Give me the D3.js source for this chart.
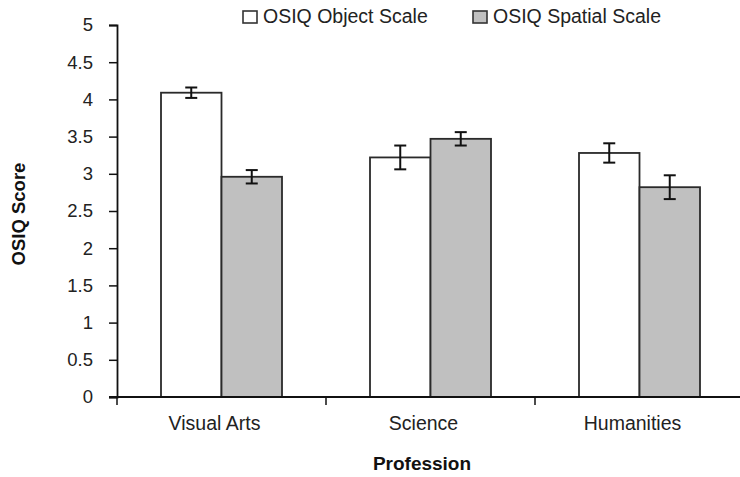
<!DOCTYPE html>
<html><head><meta charset="utf-8">
<script src="https://cdn.jsdelivr.net/npm/d3@7"></script>
<style>body{margin:0;background:#fff}text{font-family:"Liberation Sans",Arial,sans-serif}</style>
</head><body>
<svg id="c" width="740" height="477"></svg>
<script>
const categories = ["Visual Arts", "Science", "Humanities"];
const seriesNames = ["OSIQ Object Scale", "OSIQ Spatial Scale"];
const objectMeans = [4.09, 3.22, 3.28];
const objectErr = [0.07, 0.16, 0.13];
const spatialMeans = [2.96, 3.47, 2.82];
const spatialErr = [0.09, 0.09, 0.16];
const yTicks = [0, 0.5, 1, 1.5, 2, 2.5, 3, 3.5, 4, 4.5, 5];
const colors = ["#ffffff", "#c0c0c0"];

const svg = d3.select("#c");
const m = {left: 117, top: 25, bottom: 397};
const bandW = 209;
const y = d3.scaleLinear().domain([0, 5]).range([m.bottom, m.top]);
const x0 = d3.scaleBand().domain(categories).range([m.left, m.left + 3 * bandW]).paddingInner(0).paddingOuter(0);
const x1 = d3.scaleBand().domain(seriesNames).range([44, bandW - 44]);

const data = categories.map((c, i) => ({
  cat: c,
  vals: [
    {s: seriesNames[0], v: objectMeans[i], e: objectErr[i]},
    {s: seriesNames[1], v: spatialMeans[i], e: spatialErr[i]}
  ]
}));

const g = svg.append("g");
const groups = g.selectAll("g.cat").data(data).join("g").attr("transform", d => `translate(${x0(d.cat)},0)`);
groups.selectAll("rect").data(d => d.vals).join("rect")
  .attr("x", d => x1(d.s)).attr("width", x1.bandwidth())
  .attr("y", d => y(d.v)).attr("height", d => y(0) - y(d.v))
  .attr("fill", (d, i) => colors[i]).attr("stroke", "#2a2a2a").attr("stroke-width", 1.8);

const eb = groups.selectAll("g.eb").data(d => d.vals).join("g").attr("class", "eb");
const cx = d => x1(d.s) + x1.bandwidth() / 2;
eb.append("line").attr("x1", cx).attr("x2", cx)
  .attr("y1", d => y(d.v + d.e)).attr("y2", d => y(d.v - d.e));
eb.append("line").attr("x1", d => cx(d) - 6).attr("x2", d => cx(d) + 6)
  .attr("y1", d => y(d.v + d.e)).attr("y2", d => y(d.v + d.e));
eb.append("line").attr("x1", d => cx(d) - 6).attr("x2", d => cx(d) + 6)
  .attr("y1", d => y(d.v - d.e)).attr("y2", d => y(d.v - d.e));
eb.selectAll("line").attr("stroke", "#111").attr("stroke-width", 2);

// y axis
const ya = svg.append("g").attr("transform", `translate(${m.left},0)`)
  .call(d3.axisLeft(y).tickValues(yTicks).tickSize(8).tickPadding(16).tickFormat(d3.format("")));
ya.select(".domain").attr("stroke", "#111").attr("stroke-width", 1.8);
ya.selectAll(".tick line").attr("stroke", "#111").attr("stroke-width", 1.5);
ya.selectAll(".tick text").attr("font-size", 18.5).attr("fill", "#222").attr("font-family", "Liberation Sans, Arial, sans-serif");

// x axis
const xa = svg.append("g").attr("transform", `translate(0,${m.bottom})`);
xa.append("line").attr("x1", m.left - 8).attr("x2", 740).attr("y1", 0).attr("y2", 0).attr("stroke", "#111").attr("stroke-width", 1.8);
xa.selectAll("line.t").data(categories).join("line").attr("class", "t")
  .attr("x1", d => x0(d)).attr("x2", d => x0(d)).attr("y1", 0).attr("y2", 8).attr("stroke", "#111").attr("stroke-width", 1.5);
xa.selectAll("text").data(categories).join("text")
  .attr("x", d => x0(d) + x0.bandwidth() / 2 - 7).attr("y", 33).attr("text-anchor", "middle")
  .attr("font-size", 19.5).attr("fill", "#222").text(d => d);

svg.append("text").attr("x", 422).attr("y", 470).attr("text-anchor", "middle")
  .attr("font-size", 19).attr("font-weight", "bold").attr("fill", "#111").text("Profession");
svg.append("text").attr("transform", "translate(25,214) rotate(-90)").attr("text-anchor", "middle")
  .attr("font-size", 18.5).attr("font-weight", "bold").attr("fill", "#111").text("OSIQ Score");

// legend
const legX = [243, 473];
const leg = svg.selectAll("g.leg").data(seriesNames).join("g").attr("class", "leg")
  .attr("transform", (d, i) => `translate(${legX[i]},0)`);
leg.append("rect").attr("x", 0).attr("y", 11).attr("width", 14).attr("height", 12)
  .attr("fill", (d, i) => colors[i]).attr("stroke", "#333").attr("stroke-width", 1.6);
leg.append("text").attr("x", 20).attr("y", 23).attr("font-size", 19.5).attr("fill", "#222").text(d => d);
</script>
</body></html>
